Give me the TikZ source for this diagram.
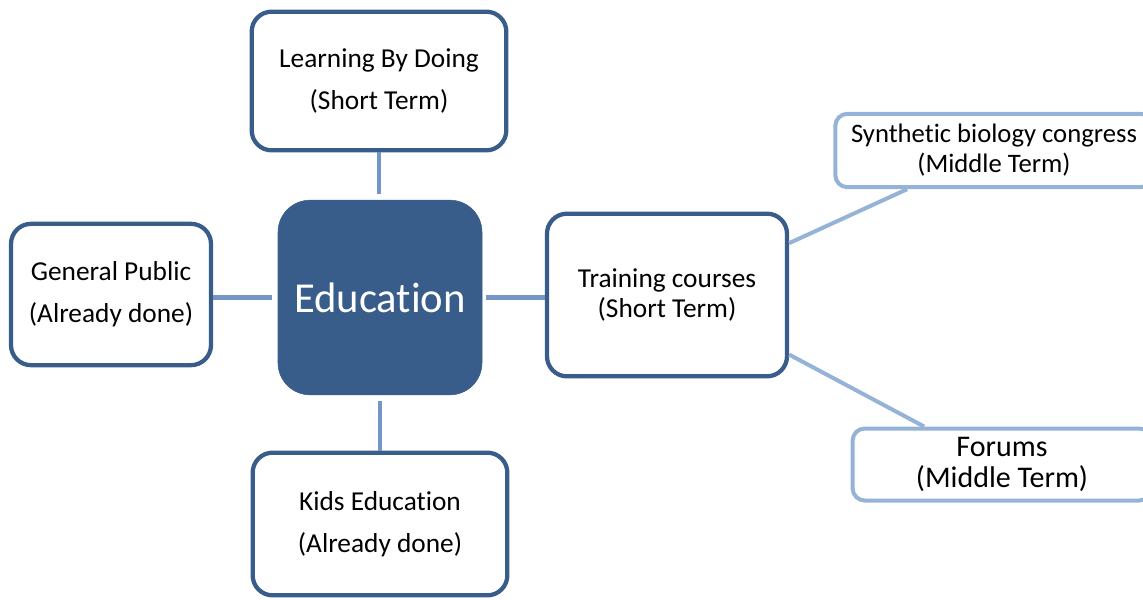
\documentclass[tikz,border=0pt]{standalone}
\usepackage{fontspec}
\setmainfont{Carlito}[Ligatures=NoCommon]
\usetikzlibrary{positioning}
\definecolor{edublue}{HTML}{385D8A}
\definecolor{linkblue}{HTML}{7395C8}
\definecolor{paleblue}{HTML}{95B3D7}
\tikzset{
  topic/.style={draw=edublue,line width=3.2pt,rounded corners=15pt,fill=white,align=center,font=\fontsize{20.5}{31.5}\selectfont},
  topictight/.style={topic,font=\fontsize{20.5}{22.5}\selectfont},
  future/.style={draw=paleblue,line width=3pt,rounded corners=9pt,fill=white,align=center,font=\fontsize{20}{22.5}\selectfont},
  hub/.style={draw=edublue,fill=edublue,rounded corners=24pt,text=white,font=\fontsize{32}{38}\selectfont},
  link/.style={draw=linkblue,line width=3.6pt,shorten >=4.5pt},
  farlink/.style={draw=paleblue,line width=3pt}
}
\begin{document}
\begin{tikzpicture}[x=0.75pt,y=-0.75pt]
  \useasboundingbox (0,0) rectangle (1143,600);
  \clip (0,0) rectangle (1143,600);
  \node[hub,minimum width=153pt,minimum height=146pt] (edu) at (380,297.5) {Education};
  \node[topic,minimum width=191pt,minimum height=104pt] (learn) at (379,81) {Learning By Doing\\(Short Term)};
  \node[topic,minimum width=150pt,minimum height=106pt] (public) at (111,294.5) {General Public\\(Already done)};
  \node[topic,minimum width=191pt,minimum height=107pt] (kids) at (380,524) {Kids Education\\(Already done)};
  \node[topictight,minimum width=180pt,minimum height=122pt] (training) at (667,295) {Training courses\\(Short Term)};
  \node[future,minimum width=238pt,minimum height=55pt] (congress) at (994,150.5) {Synthetic biology congress\\(Middle Term)};
  \node[future,font=\fontsize{22.5}{23.5}\selectfont,minimum width=224pt,minimum height=54pt] (forums) at (1002,464.5) {Forums\\(Middle Term)};
  \draw[link] (learn.south) -- (learn.south |- edu.north);
  \draw[link] (public.east |- edu.west) -- (edu.west);
  \draw[link,shorten >=0pt,shorten <=3pt] (edu.east) -- (training.west |- edu.east);
  \draw[link,shorten >=0pt,shorten <=4.5pt] (edu.south) -- (kids.north);
  \draw[farlink] (training.23.5) -- (congress.204.6);
  \draw[farlink] (training.-26.6) -- (forums.154);
\end{tikzpicture}
\end{document}
